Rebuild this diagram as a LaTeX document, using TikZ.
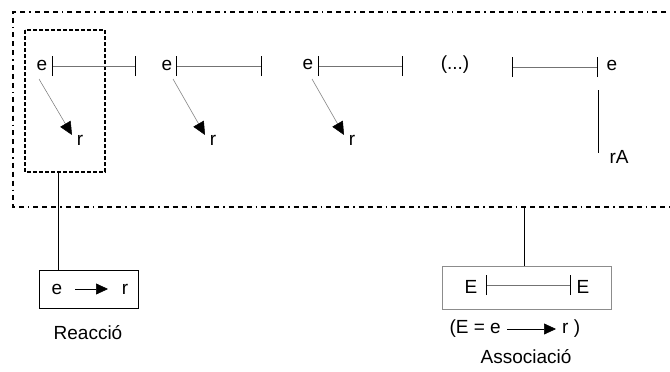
\documentclass[tikz,border=0pt]{standalone}
\usepackage{fontspec}
\setmainfont{Liberation Sans}
\usetikzlibrary{arrows.meta}
\begin{document}
\begin{tikzpicture}[x=1pt,y=-1pt,
  lbl/.style={font=\fontsize{19}{21}\selectfont, inner sep=0pt, anchor=center},
  bar/.style={line width=1pt, black},
  link/.style={line width=0.6pt, black!55},
  arr/.style={line width=0.5pt, black!55, -{Triangle[length=13pt,width=12pt,black]}},
  solidarr/.style={line width=0.6pt, -{Triangle[length=12pt,width=11pt]}},
  outerdash/.style={line width=1.4pt, dash pattern=on 5pt off 4pt on 5pt off 4pt on 5pt off 4pt on 1.5pt off 4pt},
  innerdash/.style={line width=1.4pt, dash pattern=on 4pt off 2pt},
  boxplain/.style={draw, line width=0.9pt, minimum width=99pt, minimum height=38pt, inner sep=0pt},
  conn/.style={line width=0.9pt, black}
]
\useasboundingbox (0,0) rectangle (670,372);

% outer frame
\coordinate (oTR) at (675,12);
\coordinate (oTL) at (13,12);
\coordinate (oBL) at (13,207);
\coordinate (oBR) at (675,207);
\draw[outerdash] (oTR) -- (oTL) -- (oBL) -- (oBR);

% inner frame
\coordinate (iTL) at (25,30);
\coordinate (iBR) at (105,172);
\draw[innerdash] (iTL) rectangle (iBR);

% group 1
\node[lbl] (e1) at (42,65) {e};
\node[lbl] (r1) at (80,140) {r};
\coordinate (b1a) at (52,66); \coordinate (b1b) at (135,66);
\draw[link] (b1a) -- (b1b);
\draw[bar] ([yshift=-10pt]b1a) -- ([yshift=10pt]b1a);
\draw[bar] ([yshift=-10pt]b1b) -- ([yshift=10pt]b1b);
\draw[arr] ([shift={(-3,14)}]e1.center) -- ([shift={(-8,-5)}]r1.center);

% group 2
\node[lbl] (e2) at (167,65) {e};
\node[lbl] (r2) at (213,140) {r};
\coordinate (b2a) at (176,66); \coordinate (b2b) at (261,66);
\draw[link] (b2a) -- (b2b);
\draw[bar] ([yshift=-10pt]b2a) -- ([yshift=10pt]b2a);
\draw[bar] ([yshift=-10pt]b2b) -- ([yshift=10pt]b2b);
\draw[arr] ([shift={(6,14)}]e2.center) -- ([shift={(-8,-5)}]r2.center);

% group 3
\node[lbl] (e3) at (308,64) {e};
\node[lbl] (r3) at (352,140) {r};
\coordinate (b3a) at (318,66); \coordinate (b3b) at (402,66);
\draw[link] (b3a) -- (b3b);
\draw[bar] ([yshift=-10pt]b3a) -- ([yshift=10pt]b3a);
\draw[bar] ([yshift=-10pt]b3b) -- ([yshift=10pt]b3b);
\draw[arr] ([shift={(4,15)}]e3.center) -- ([shift={(-8,-5)}]r3.center);

% dots
\node[lbl] (dots) at (455,65) {(...)};

% group 4
\node[lbl] (e4) at (612,65) {e};
\node[lbl] (rA) at (619,157) {rA};
\coordinate (b4a) at (512,67); \coordinate (b4b) at (597,67);
\draw[link] (b4a) -- (b4b);
\draw[bar] ([yshift=-10pt]b4a) -- ([yshift=10pt]b4a);
\draw[bar] ([yshift=-10pt]b4b) -- ([yshift=10pt]b4b);
\coordinate (v4a) at (598,90); \coordinate (v4b) at (598,153);
\draw[bar] (v4a) -- (v4b);

% Reaccio box
\node[boxplain] (rbox) at (88.5,289) {};
\node[lbl] (rbe) at (57,289) {e};
\node[lbl] (rbr) at (125,289) {r};
\draw[solidarr] ([xshift=18pt]rbe.center) -- ([xshift=-17pt]rbr.center);
\node[lbl] (reac) at (88,333) {Reacci\'o};
\coordinate (c1top) at (58,172);
\draw[conn] (c1top) -- (c1top |- rbox.north);

% Associacio box
\node[draw=black!45, line width=0.9pt, minimum width=169pt, minimum height=43pt, inner sep=0pt] (abox) at (526.5,287.5) {};
\node[lbl] (aE1) at (471,287) {E};
\node[lbl] (aE2) at (583,287) {E};
\coordinate (ab1) at (486,285); \coordinate (ab2) at (570,285);
\draw[link] (ab1) -- (ab2);
\draw[bar] ([yshift=-10pt]ab1) -- ([yshift=10pt]ab1);
\draw[bar] ([yshift=-10pt]ab2) -- ([yshift=10pt]ab2);
\node[lbl, anchor=east] (aeq) at (501,329) {(E = e};
\node[lbl, anchor=west] (aeqr) at (562,329) {r )};
\draw[solidarr] ([xshift=6pt]aeq.east) -- ([xshift=-6pt]aeqr.west);
\node[lbl] (assoc) at (526,357) {Associaci\'o};
\coordinate (c2top) at (524,207);
\draw[conn] (c2top) -- (c2top |- abox.north);
\end{tikzpicture}
\end{document}
